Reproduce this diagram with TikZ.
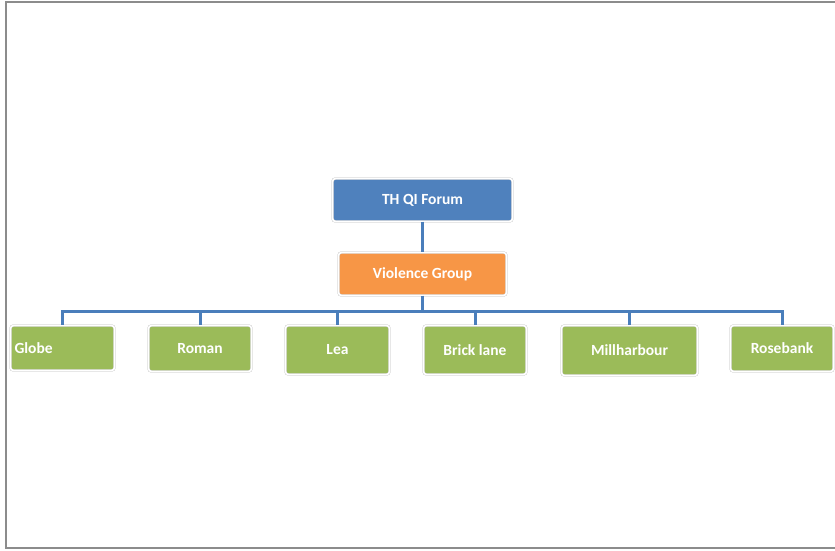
\documentclass[tikz,border=0pt]{standalone}
\usepackage{fontspec}
\setmainfont{Carlito}
\usepackage{xcolor}
\usetikzlibrary{positioning,calc}
\definecolor{topblue}{HTML}{4F81BD}
\definecolor{grporange}{HTML}{F79646}
\definecolor{sitegreen}{HTML}{9BBB59}
\definecolor{linkblue}{HTML}{4A7EBB}
\definecolor{frame}{HTML}{8C8C8C}

\begin{document}
\begin{tikzpicture}[x=1pt,y=-1pt,
  box/.style={rounded corners=3pt,draw=black!22,double=white,double distance=1.6pt,
    text=white,font=\fontsize{15.5}{17}\selectfont\bfseries,inner sep=0pt,align=center},
  site/.style={box,fill=sitegreen},
  link/.style={linkblue,line width=3pt}]
\useasboundingbox (0,0) rectangle (835,550);
% page frame (left, top, bottom only)
\draw[frame,line width=2pt] (835,1.5) -- (5.5,1.5) -- (5.5,548) -- (835,548);

% top of the chart
\node[box,fill=topblue,minimum width=180pt,minimum height=43pt] (forum) at (422.5,200) {TH QI Forum};
\node[box,fill=grporange,minimum width=168pt,minimum height=43pt] (violence) at (422.5,274) {Violence Group};

% the six sites
\node[site,minimum width=104pt,minimum height=45pt,text width=96pt,align=left] (globe) at (62.5,348) {Globe\\[-3pt]};
\node[site,minimum width=103pt,minimum height=46pt] (roman) at (200,348.5) {Roman};
\node[site,minimum width=104pt,minimum height=49pt] (lea) at (337.5,350) {Lea};
\node[site,minimum width=103pt,minimum height=49pt] (brick) at (475,350) {Brick lane};
\node[site,minimum width=136pt,minimum height=50pt] (mill) at (629.5,350.5) {Millharbour};
\node[site,minimum width=103pt,minimum height=46pt] (rose) at (782,348.5) {Rosebank};

% connectors
\coordinate (split) at (422.5,311);
\draw[link] (forum) -- (violence);
\draw[link] (violence) -- (split);
\foreach \s in {globe,roman,lea,brick,mill,rose}
  \draw[link] (split) -| (\s.north);
\end{tikzpicture}
\end{document}
